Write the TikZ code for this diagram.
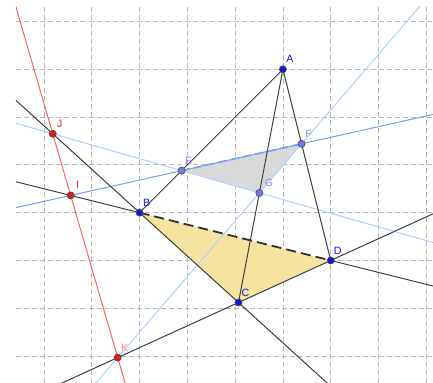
\documentclass[tikz,border=0pt]{standalone}
\usepackage{fontspec}
\setmainfont{Liberation Sans}
\usetikzlibrary{calc}
\definecolor{ptblue}{RGB}{20,20,225}
\definecolor{ptlight}{RGB}{120,120,240}
\definecolor{lbllight}{RGB}{140,140,250}
\definecolor{ptred}{RGB}{230,25,25}
\definecolor{lblred}{RGB}{225,45,45}
\definecolor{lblpink}{RGB}{255,135,135}
\definecolor{redline}{RGB}{255,100,100}
\definecolor{blueline}{RGB}{120,160,240}
\definecolor{paleline}{RGB}{175,210,255}
\definecolor{yellowfill}{RGB}{245,228,160}
\definecolor{grayfill}{RGB}{217,217,217}

\begin{document}
\begin{tikzpicture}[
  pt/.style={circle,draw=black!70,line width=0.4pt,inner sep=0pt,minimum size=4.2pt},
  lbl/.style={inner sep=0pt,xshift=4.2pt,yshift=6pt,font=\fontsize{6.3}{7}\selectfont},
  ln/.style={black!75,line width=0.6pt},
  gridline/.style={black!27,line width=0.5pt,dash pattern=on 3pt off 1.8pt}]
\useasboundingbox (-0.92,-0.56) rectangle (8.14,7.45);
\coordinate (A) at (5,6);
\coordinate (B) at (2,3);
\coordinate (C) at (4.07,1.12);
\coordinate (D) at (6,2);
\coordinate (E) at ($(A)!0.707!(B)$);
\coordinate (F) at ($(A)!0.39!(D)$);
\coordinate (G) at ($(A)!0.53!(C)$);
\coordinate (I) at (intersection of B--D and E--F);
\coordinate (J) at (intersection of B--C and E--G);
\coordinate (K) at (intersection of C--D and F--G);

\begin{scope}
\clip (-0.586,-0.56) rectangle (8.14,7.31);
\draw[gridline] (-0.586,-0.56) grid (8.14,7.31);
\fill[yellowfill] (B) -- (C) -- (D) -- cycle;
\fill[grayfill] (E) -- (F) -- (G) -- cycle;
\draw[paleline,line width=0.6pt] ($(E)!-6!(G)$) -- ($(E)!8!(G)$);
\draw[paleline,line width=0.6pt] ($(G)!-6!(F)$) -- ($(G)!8!(F)$);
\draw[blueline,line width=0.6pt] ($(E)!-6!(F)$) -- ($(E)!8!(F)$);
\draw[blueline,line width=1pt,dash pattern=on 5pt off 2.5pt] (E) -- (F);
\draw[redline,line width=0.6pt] ($(J)!-3!(K)$) -- ($(J)!3!(K)$);
\draw[ln] ($(B)!-4!(C)$) -- ($(B)!5!(C)$);
\draw[ln] ($(C)!-4!(D)$) -- ($(C)!5!(D)$);
\draw[ln] ($(B)!-4!(D)$) -- (B);
\draw[ln] (D) -- ($(B)!5!(D)$);
\draw[black!80,line width=1.1pt,dash pattern=on 6pt off 3pt] (B) -- (D);
\draw[ln] (A) -- (B);
\draw[ln] (A) -- (C);
\draw[ln] (A) -- (D);
\end{scope}

\node[pt,fill=ptblue] (pA) at (A) {};
\node[pt,fill=ptblue] (pB) at (B) {};
\node[pt,fill=ptblue] (pC) at (C) {};
\node[pt,fill=ptblue] (pD) at (D) {};
\node[pt,fill=ptlight] (pE) at (E) {};
\node[pt,fill=ptlight] (pF) at (F) {};
\node[pt,fill=ptlight] (pG) at (G) {};
\node[pt,fill=ptred] (pI) at (I) {};
\node[pt,fill=ptred] (pJ) at (J) {};
\node[pt,fill=ptred] (pK) at (K) {};

\node[lbl,text=ptblue] (lA) at (A) {A};
\node[lbl,text=ptblue] (lB) at (B) {B};
\node[lbl,text=ptblue] (lC) at (C) {C};
\node[lbl,text=ptblue] (lD) at (D) {D};
\node[lbl,text=lbllight] (lE) at (E) {E};
\node[lbl,text=lbllight] (lF) at (F) {F};
\node[lbl,text=lbllight,xshift=1.5pt] (lG) at (G) {G};
\node[lbl,text=lblred] (lI) at (I) {I};
\node[lbl,text=lblred] (lJ) at (J) {J};
\node[lbl,text=lblpink] (lK) at (K) {K};
\end{tikzpicture}
\end{document}
